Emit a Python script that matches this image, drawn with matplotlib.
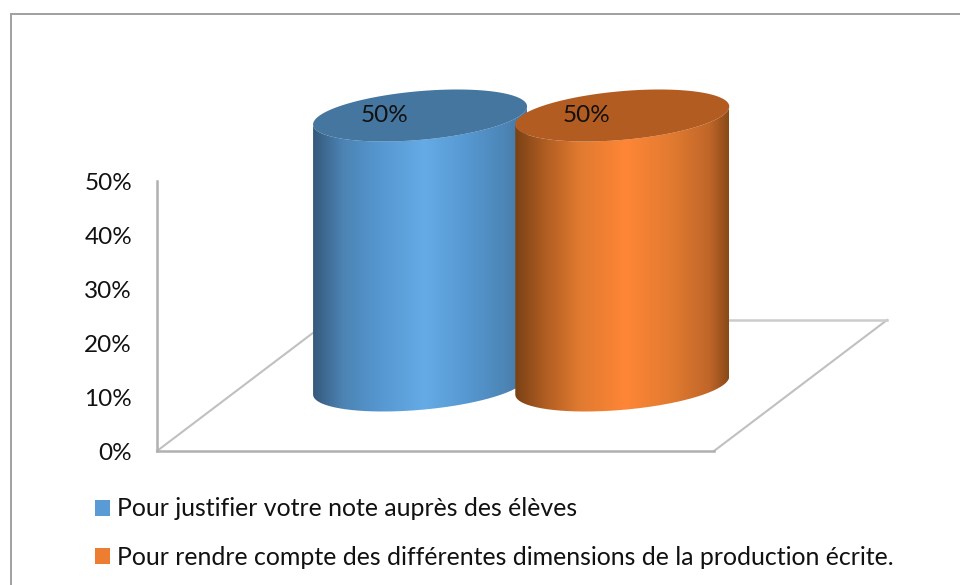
"""Cylinder chart, drawn by hand on a plain axes because matplotlib has no 3D-look clustered column."""

import matplotlib

matplotlib.use("Agg")

import matplotlib.pyplot as plt
import numpy as np
from matplotlib.colors import LinearSegmentedColormap
from matplotlib.patches import Patch, PathPatch, Polygon
from matplotlib.path import Path

labels = [
    "Pour justifier votre note auprès des élèves",
    "Pour rendre compte des différentes dimensions de la production écrite.",
]
values = [50, 50]
tick_values = [0, 10, 20, 30, 40, 50]
legend_colors = ["#5B9BD5", "#ED7D31"]
cap_colors = ["#44769F", "#B35C22"]
side_colors = [
    ["#36597C", "#4C84B4", "#5596CF", "#65ABE6", "#5596CF", "#4C84B4", "#44739F"],
    ["#7A4215", "#B05D22", "#E07A30", "#FF8636", "#E07A30", "#C0662A", "#8A4A17"],
]
side_stops = [0.0, 0.14, 0.3, 0.52, 0.74, 0.91, 1.0]

W, H = 960, 585
# value axis and front floor edge, in pixels
LEFT, RIGHT, TOP, BOTTOM = 157, 714, 181, 451
DEPTH_X, DEPTH_Y = 173, 131
CENTERS = [0.317, 0.68]

plt.rcParams["font.family"] = ["Lato", "DejaVu Sans"]

fig = plt.figure(figsize=(W / 100, H / 100), dpi=100)
ax = fig.add_axes([LEFT / W, 1 - BOTTOM / H, (RIGHT - LEFT) / W, (BOTTOM - TOP) / H])
ax.set_xlim(0, 1)
ax.set_ylim(0, 50)
ax.patch.set_visible(False)

ux = 1 / (RIGHT - LEFT)  # data units per pixel
uy = 50 / (BOTTOM - TOP)

for side in ("top", "right"):
    ax.spines[side].set_visible(False)
for side in ("left", "bottom"):
    ax.spines[side].set_color("#B0B0B0")
    ax.spines[side].set_linewidth(1.8)
ax.set_xticks([])
ax.set_yticks(tick_values, [f"{v}%" for v in tick_values], fontsize=17.5, color="#111111")
ax.tick_params(axis="y", length=0, pad=18)

# floor edges
dx, dy = DEPTH_X * ux, DEPTH_Y * uy
ax.plot([0, dx], [0, dy], color="#C0C0C0", lw=1.5, zorder=1, clip_on=False)
ax.plot([1, 1 + dx], [0, dy], color="#C0C0C0", lw=1.5, zorder=1, clip_on=False)
ax.plot([dx, 1 + dx], [dy, dy], color="#CCCCCC", lw=1.8, zorder=1, clip_on=False)

# cylinders stand half way back on the floor
a, b, k = 107 * ux, 24.4 * uy, 9 * uy
t = np.linspace(0, 2 * np.pi, 241)
for i, (center, value) in enumerate(zip(CENTERS, values)):
    cx = center + dx / 2
    y0 = dy / 2
    y1 = y0 + value

    # outline of the side: top front half, then bottom front half reversed
    tf = np.linspace(np.pi, 2 * np.pi, 120)
    xf = cx + a * np.cos(tf)
    yf = b * np.sin(tf) + k * np.cos(tf)
    xs = np.r_[xf, xf[::-1]]
    ys = np.r_[y0 + yf, y1 + yf[::-1]]
    side_path = Path(np.column_stack([xs, ys]))
    clip = PathPatch(side_path, transform=ax.transData, facecolor="none", edgecolor="none")
    ax.add_patch(clip)
    clip.set_clip_on(False)

    cmap = LinearSegmentedColormap.from_list(
        f"side{i}", list(zip(side_stops, side_colors[i]))
    )
    grad = np.linspace(0, 1, 256).reshape(1, -1)
    im = ax.imshow(
        grad,
        extent=[cx - a, cx + a, y0 - 2 * b, y1 + 2 * b],
        cmap=cmap,
        aspect="auto",
        interpolation="bilinear",
        zorder=2 + i,
    )
    im.set_clip_path(clip)
    im.set_clip_box(fig.bbox)

    cap = Polygon(
        np.column_stack(
            [cx + a * np.cos(t), y1 + b * np.sin(t) + k * np.cos(t)]
        ),
        closed=True,
        facecolor=cap_colors[i],
        edgecolor="none",
        zorder=2 + i,
        clip_on=False,
    )
    ax.add_patch(cap)
    ax.text(
        cx - 36 * ux, y1, f"{value}%",
        ha="center", va="center", fontsize=17.5, color="#111111", zorder=5,
    )

ax.set_xlim(0, 1)
ax.set_ylim(0, 50)

handles = [Patch(facecolor=c, edgecolor="none") for c in legend_colors]
fig.legend(
    handles, labels,
    loc="upper left",
    bbox_to_anchor=(72.6 / W, 1 - 475 / H),
    frameon=False,
    fontsize=17.9,
    handlelength=0.6,
    handleheight=0.6,
    handletextpad=0.28,
    labelspacing=1.02,
    labelcolor="#111111",
)

# outer chart frame, runs off the picture on the right and at the bottom
fig.add_artist(
    plt.Rectangle(
        (10.5 / W, -0.02), 1.02, 1.02 - 13.5 / H,
        transform=fig.transFigure, facecolor="none", edgecolor="#A0A0A0", lw=1.4,
    )
)

fig.savefig("out.png", dpi=100)
